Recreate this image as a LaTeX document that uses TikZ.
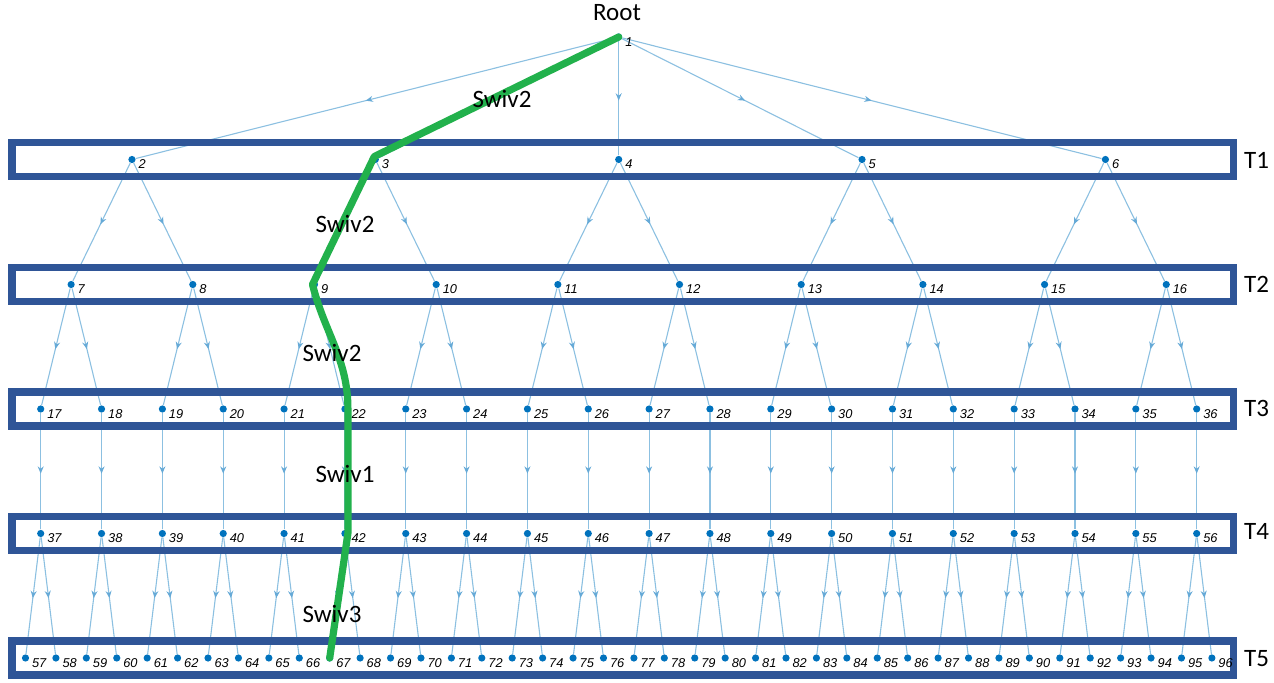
\documentclass[tikz,border=0pt]{standalone}
\usepackage{fontspec}
\setmainfont{Carlito}
\newfontfamily\numfont{Liberation Sans}
\usetikzlibrary{arrows.meta,decorations.markings,backgrounds}
\definecolor{matblue}{RGB}{0,114,189}
\definecolor{boxblue}{RGB}{47,85,151}
\definecolor{pathgreen}{RGB}{34,177,76}
\tikzset{
  vertex/.style={circle, fill=matblue, inner sep=0pt, minimum size=3.6pt},
  nlabel/.style={font=\numfont\itshape\fontsize{6.4}{7}\selectfont, inner sep=0pt, yshift=-2.5pt, label distance=1.1pt},
  link/.style={draw=matblue!45, line width=0.55pt, postaction={decorate},
    decoration={markings, mark=at position 0.52 with {\arrow[matblue!60]{Stealth[length=3.6pt,width=3pt]}}}},
  tierbox/.style={draw=boxblue, line width=3.9pt},
  tier/.style={font=\fontsize{12.5}{14}\selectfont},
  swiv/.style={font=\fontsize{12.5}{14}\selectfont},
  greenpath/.style={draw=pathgreen, line width=3.6pt, line cap=round, line join=round},
}
\def\u{30.42}
\def\xo{25.5}

\begin{document}
\begin{tikzpicture}[x=0.5pt, y=0.5pt]
    \useasboundingbox (0,0) rectangle (1274,-683);

    % tree nodes, one row per level
    \node[vertex, label={[nlabel]right:1}] (n1) at ({\xo+\u*19.5}, -37) {};
    \foreach \i in {0,...,4} {
        \pgfmathtruncatemacro\id{2+\i}
        \node[vertex, label={[nlabel]right:\id}] (n\id) at ({\xo+\u*(8*\i+3.5)}, -159.5) {};
    }
    \foreach \j in {0,...,9} {
        \pgfmathtruncatemacro\id{7+\j}
        \node[vertex, label={[nlabel]right:\id}] (n\id) at ({\xo+\u*(4*\j+1.5)}, -284.5) {};
    }
    \foreach \k in {0,...,19} {
        \pgfmathtruncatemacro\id{17+\k}
        \pgfmathtruncatemacro\jd{37+\k}
        \node[vertex, label={[nlabel]right:\id}] (n\id) at ({\xo+\u*(2*\k+0.5)}, -409) {};
        \node[vertex, label={[nlabel]right:\jd}] (n\jd) at ({\xo+\u*(2*\k+0.5)}, -533.5) {};
    }
    \foreach \m in {0,...,39} {
        \pgfmathtruncatemacro\id{57+\m}
        \node[vertex, label={[nlabel]right:\id}] (n\id) at ({\xo+\u*\m}, -658) {};
    }

    \begin{scope}[on background layer]
        \foreach \c in {2,...,6}
            \draw[link] (n1) -- (n\c);
        \foreach \p in {2,...,16} {
            \pgfmathtruncatemacro\a{2*\p+3}
            \pgfmathtruncatemacro\b{2*\p+4}
            \draw[link] (n\p) -- (n\a);
            \draw[link] (n\p) -- (n\b);
        }
        \foreach \p in {17,...,36} {
            \pgfmathtruncatemacro\a{\p+20}
            \draw[link] (n\p) -- (n\a);
        }
        \foreach \p in {37,...,56} {
            \pgfmathtruncatemacro\a{2*\p-17}
            \pgfmathtruncatemacro\b{2*\p-16}
            \draw[link] (n\p) -- (n\a);
            \draw[link] (n\p) -- (n\b);
        }
        % tier frames
        \foreach \y in {159.5, 284.5, 409, 533.5, 658}
            \draw[tierbox] (12, -\y+17) rectangle (1233.5, -\y-17);
    \end{scope}

    % tier names
    \node[tier] (t1) at (1256.5, -160) {T1};
    \node[tier] (t2) at (1256.5, -284.5) {T2};
    \node[tier] (t3) at (1256.5, -408) {T3};
    \node[tier] (t4) at (1256.5, -531) {T4};
    \node[tier] (t5) at (1256.5, -659) {T5};

    % highlighted path
    \draw[greenpath] (n1.center) -- ([shift={(-1,3)}]n3.center) -- ([xshift=-1]n9.center)
        to[out=-76, in=90] ([xshift=1.5]n22.center) -- ([xshift=1.5]n42.center) -- (n67.center);

    \node (root) at (617, -13) {\fontsize{12.5}{14}\selectfont Root};
    \node[swiv] (s1) at (502, -99) {Swiv2};
    \node[swiv] (s2) at (345, -224) {Swiv2};
    \node[swiv] (s3) at (332, -353) {Swiv2};
    \node[swiv] (s4) at (345, -473.5) {Swiv1};
    \node[swiv] (s5) at (332, -614) {Swiv3};
\end{tikzpicture}
\end{document}
